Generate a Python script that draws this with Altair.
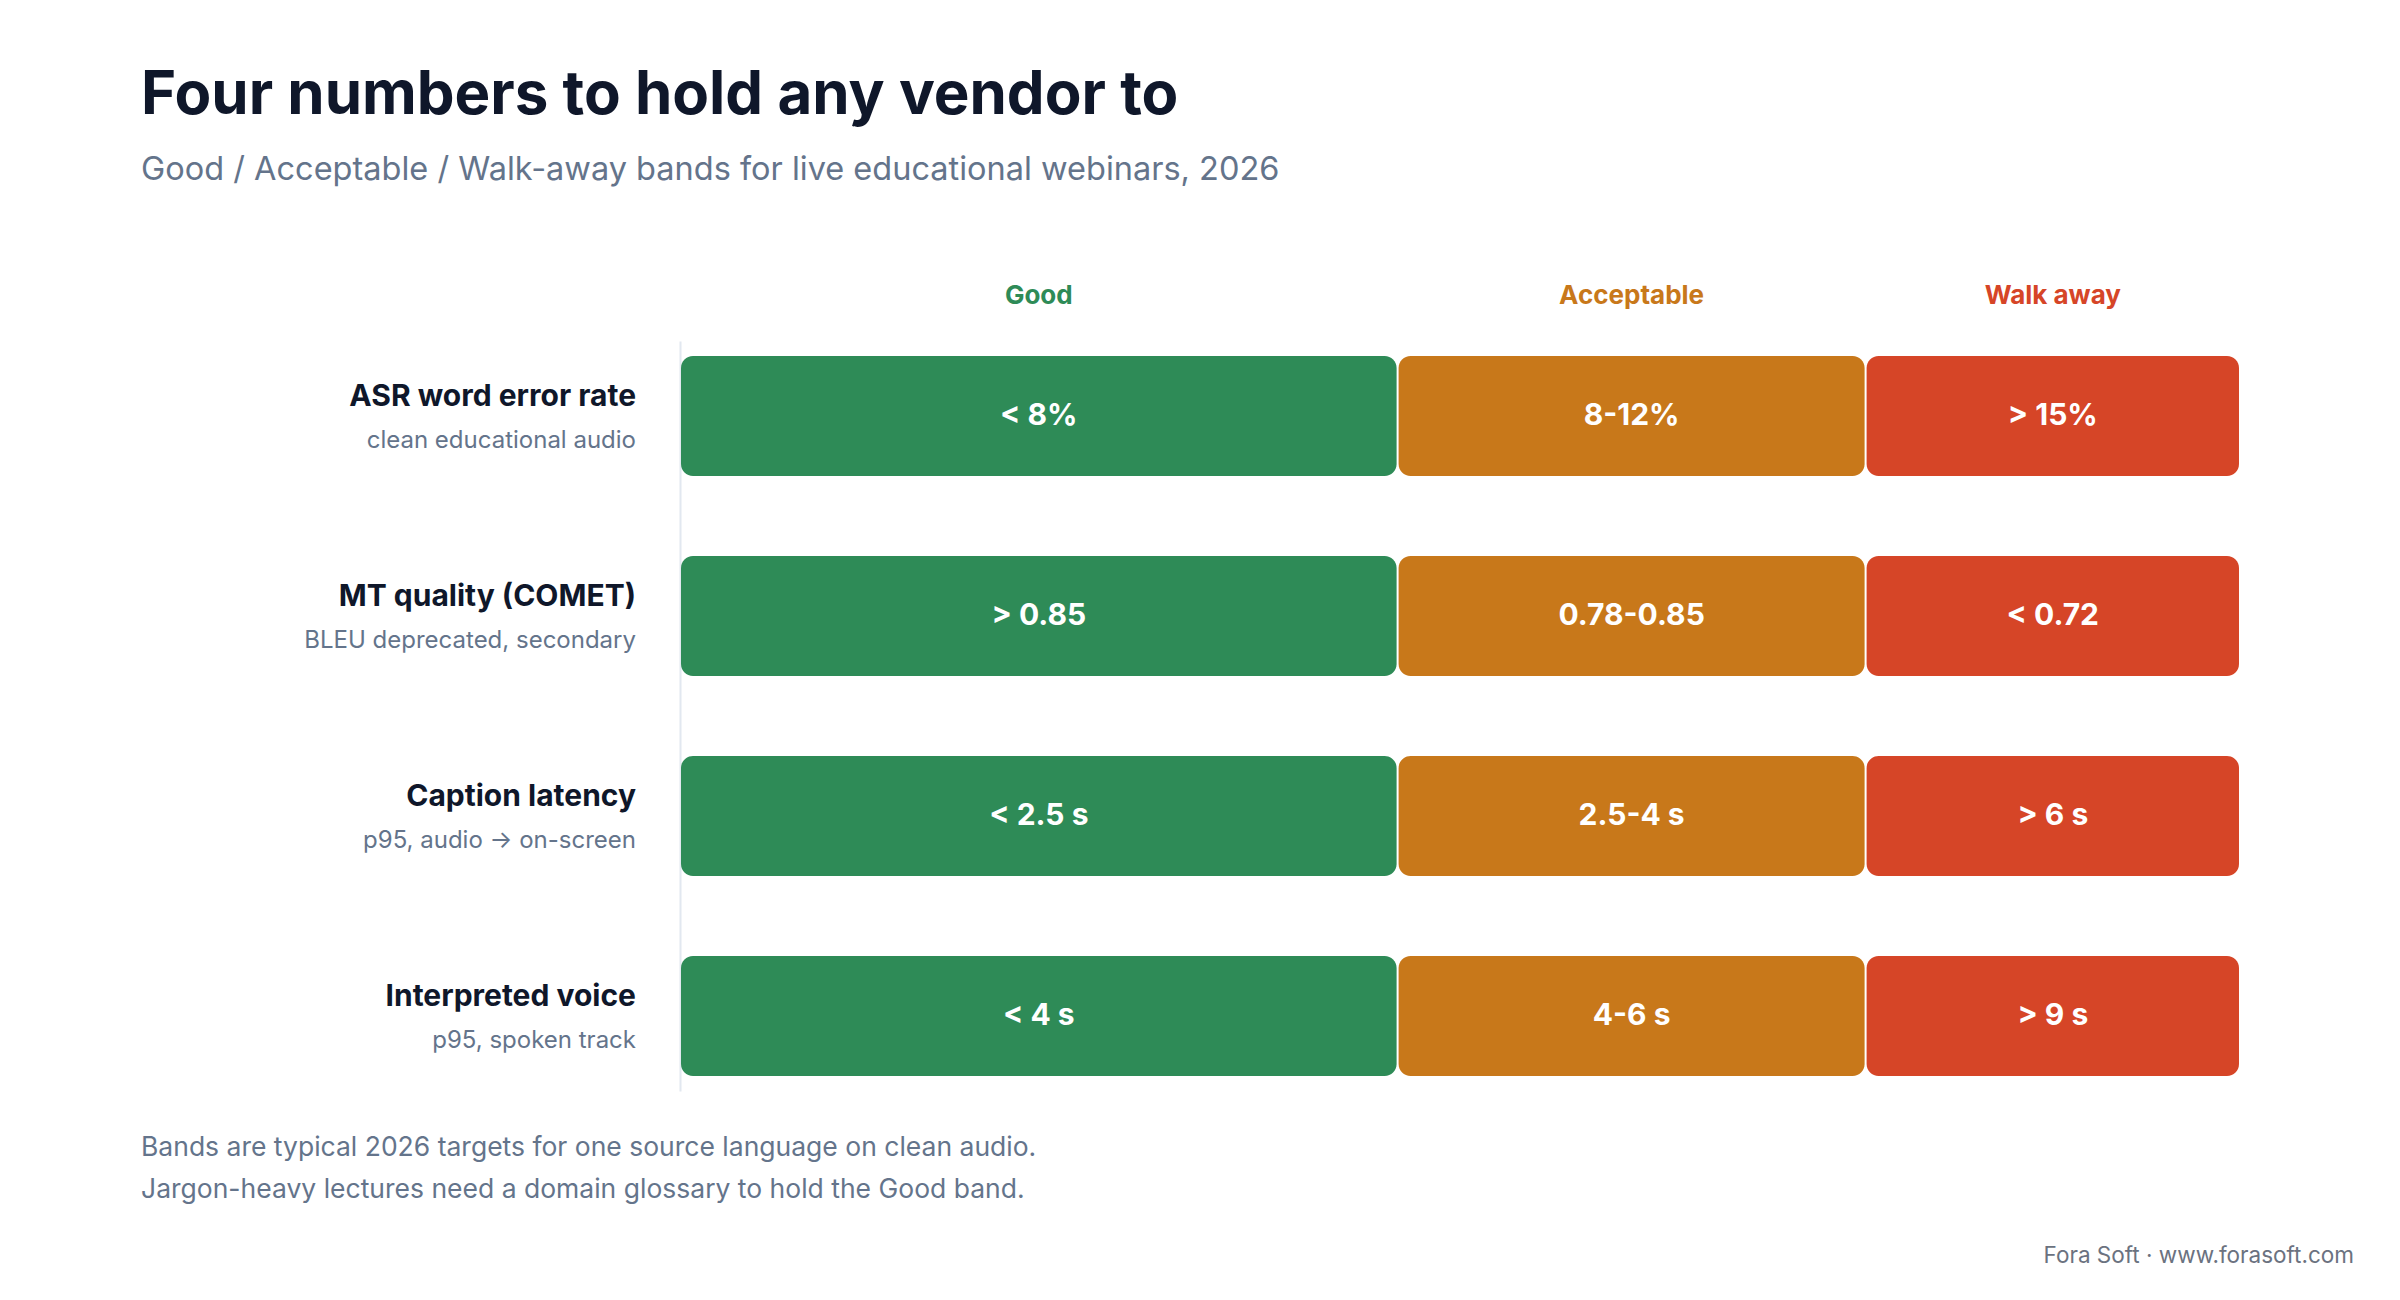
import altair as alt
import pandas as pd

# rows and bands
metrics = ["ASR word error rate", "MT quality (COMET)", "Caption latency", "Interpreted voice"]
notes = ["clean educational audio", "BLEU deprecated, secondary", "p95, audio \u2192 on-screen", "p95, spoken track"]
bands = ["Good", "Acceptable", "Walk away"]
band_share = [46, 30, 24]
band_colors = ["#2e8b57", "#c8781a", "#d64527"]

good = ["< 8%", "> 0.85", "< 2.5 s", "< 4 s"]
acceptable = ["8-12%", "0.78-0.85", "2.5-4 s", "4-6 s"]
walk_away = ["> 15%", "< 0.72", "> 6 s", "> 9 s"]

footnotes = [
    "Bands are typical 2026 targets for one source language on clean audio.",
    "Jargon-heavy lectures need a domain glossary to hold the Good band.",
]
credit = "Fora Soft \u00b7 www.forasoft.com"

FONT = "Inter"

# band start/end positions
starts, ends = [], []
pos = 0
for s in band_share:
    starts.append(pos)
    pos += s
    ends.append(pos)

band_df = pd.DataFrame({
    "band": bands,
    "start": starts,
    "end": ends,
})
band_df["mid"] = (band_df["start"] + band_df["end"]) / 2

rows = []
for band, values in zip(bands, [good, acceptable, walk_away]):
    for m, v in zip(metrics, values):
        rows.append({"metric": m, "band": band, "value": v})
df = pd.DataFrame(rows).merge(band_df, on="band")

label_df = pd.DataFrame({"metric": metrics, "note": notes})

x_scale = alt.Scale(domain=[0, 100], nice=False, zero=False)
color_scale = alt.Scale(domain=bands, range=band_colors)
y_enc = alt.Y(
    "metric:N", sort=metrics,
    scale=alt.Scale(paddingInner=0.4, paddingOuter=0.075),
    axis=alt.Axis(labels=False, ticks=False, title=None, grid=False,
                  domainColor="#e2e8f0", domainWidth=2),
)

bars = alt.Chart(df).mark_bar(cornerRadius=12, xOffset=1, x2Offset=-1).encode(
    x=alt.X("start:Q", scale=x_scale, axis=None),
    x2="end:Q",
    y=y_enc,
    color=alt.Color("band:N", scale=color_scale, legend=None),
)

bar_text = alt.Chart(df).mark_text(
    font=FONT, fontSize=30, fontWeight=700, color="white", baseline="middle"
).encode(
    x=alt.X("mid:Q", scale=x_scale, axis=None),
    y=alt.Y("metric:N", sort=metrics),
    text="value:N",
)

headers = alt.Chart(band_df).mark_text(
    font=FONT, fontSize=26, fontWeight=700, baseline="middle"
).encode(
    x=alt.X("mid:Q", scale=x_scale, axis=None),
    y=alt.value(-45),
    text="band:N",
    color=alt.Color("band:N", scale=color_scale, legend=None),
)

row_labels = alt.Chart(label_df).mark_text(
    font=FONT, fontSize=30, fontWeight=700, color="#0f172a",
    align="right", baseline="middle", dy=-19
).encode(
    x=alt.value(-44),
    y=alt.Y("metric:N", sort=metrics),
    text="metric:N",
)

row_notes = alt.Chart(label_df).mark_text(
    font=FONT, fontSize=24, color="#64748b",
    align="right", baseline="middle", dy=25
).encode(
    x=alt.value(-44),
    y=alt.Y("metric:N", sort=metrics),
    text="note:N",
)

foot = alt.Chart(pd.DataFrame({"k": [0]})).mark_text(
    font=FONT, fontSize=26.5, color="#64748b", align="left",
    baseline="alphabetic", lineHeight=42, text=footnotes
).encode(
    x=alt.value(-539),
    y=alt.value(815),
)

credit_text = alt.Chart(pd.DataFrame({"k": [0]})).mark_text(
    font=FONT, fontSize=22.5, color="#6b7280", align="right",
    baseline="alphabetic", text=credit
).encode(
    x=alt.value(1674),
    y=alt.value(922),
)

chart = alt.layer(
    bars, bar_text, headers, row_labels, row_notes, foot, credit_text
).properties(
    width=1560,
    height=750,
    autosize=alt.AutoSizeParams(type="none"),
    padding={"left": 672, "top": 333, "right": 152, "bottom": 187},
    background="white",
    title=alt.TitleParams(
        text="Four numbers to hold any vendor to",
        subtitle="Good / Acceptable / Walk-away bands for live educational webinars, 2026",
        anchor="start",
        offset=96,
        font=FONT,
        fontSize=60,
        fontWeight=700,
        color="#0f172a",
        subtitleFont=FONT,
        subtitleFontSize=32.5,
        subtitleColor="#64748b",
        subtitlePadding=27,
    ),
).configure_view(stroke=None)

chart.save("out.html", embed_options={"renderer": "svg", "actions": False})
